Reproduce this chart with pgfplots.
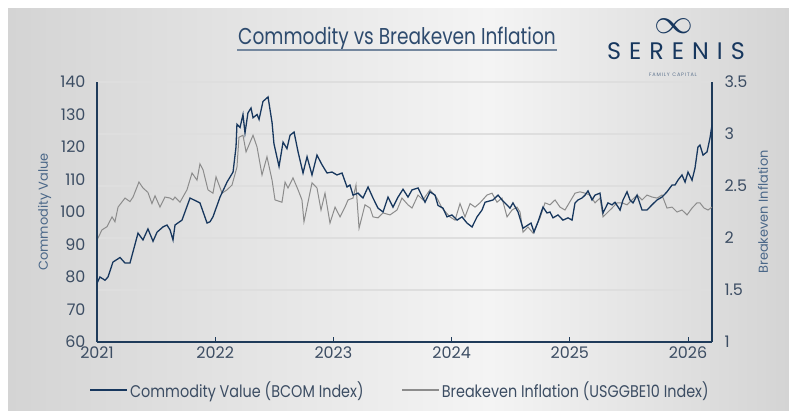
\documentclass[border=0pt]{standalone}
\usepackage{fontspec}
\setmainfont{Poppins}
\usepackage{pgfplots}
\pgfplotsset{compat=1.18}

\definecolor{navy}{HTML}{17375E}
\definecolor{axisnavy}{HTML}{1F3B5A}
\definecolor{beline}{HTML}{8C8C8C}
\definecolor{ticktext}{HTML}{3C4D63}
\definecolor{labeltext}{HTML}{4A6788}
\definecolor{bgdark}{HTML}{D4D4D4}
\definecolor{bglight}{HTML}{F4F4F4}

\begin{document}
\begin{tikzpicture}[x=1bp,y=1bp]
% page and shaded panel
\fill[white] (0,0) rectangle (789,412);
\useasboundingbox (0,0) rectangle (789,412);
\shade[left color=bgdark, right color=bglight] (8,2) rectangle (490,403);
\shade[left color=bglight, right color=bgdark] (490,2) rectangle (789,403);

% title
\node[text=navy!90!white] at (397,373) {\scalebox{0.81}[1]{\fontsize{23}{27}\selectfont Commodity vs Breakeven Inflation}};
\draw[navy!60!white, line width=1.3bp] (237,362) -- (557,362);

% logo
\node[text=navy, inner sep=0pt] at (674,386) {\scalebox{3.9}[3.4]{$\infty$}};
\node[text=navy] at (676,361) {\fontsize{24}{28}\selectfont S\hspace{8bp}E\hspace{8bp}R\hspace{8bp}E\hspace{8bp}N\hspace{8bp}I\hspace{8bp}S};
\node[text=navy!70!white] at (673,337) {\fontsize{5}{6}\selectfont F\,A\,M\,I\,L\,Y\ \ C\,A\,P\,I\,T\,A\,L};

% breakeven inflation, right scale
\begin{axis}[
  at={(97bp,70bp)}, anchor=south west,
  scale only axis, width=615bp, height=260bp,
  xmin=2021, xmax=2026.203,
  ymin=1, ymax=3.5,
  axis x line=none,
  axis y line*=right,
  axis line style={axisnavy, line width=1.4bp},
  ytick={1,1.5,...,3.5},
  yticklabels={1,1.5,2,2.5,3,3.5},
  ytick style={draw=none},
  ymajorgrids,
  grid style={gray!26, line width=1.3bp},
  yticklabel style={font=\fontsize{16}{18}\selectfont, text=ticktext, xshift=9bp},
  /pgf/number format/assume math mode=true,
  ylabel={Breakeven Inflation},
  ylabel style={at={(axis description cs:1.083,0.5)}, anchor=center, rotate=0,
    font=\fontsize{13}{15}\selectfont, text=labeltext},
]
\addplot[beline, line width=1bp] coordinates {
(2021.000,1.981) (2021.042,2.078) (2021.085,2.109) (2021.127,2.203) (2021.152,2.156) (2021.178,2.297) (2021.237,2.384) (2021.279,2.350) (2021.305,2.394) (2021.355,2.538) (2021.389,2.481) (2021.431,2.438) (2021.465,2.331) (2021.491,2.406) (2021.533,2.297) (2021.575,2.394) (2021.618,2.384) (2021.643,2.366) (2021.660,2.394) (2021.702,2.344) (2021.761,2.463) (2021.804,2.625) (2021.846,2.556) (2021.871,2.713) (2021.897,2.656) (2021.939,2.463) (2021.981,2.431) (2022.007,2.588) (2022.058,2.431) (2022.100,2.463) (2022.142,2.509) (2022.184,2.681) (2022.201,2.969) (2022.235,2.988) (2022.261,2.828) (2022.320,2.988) (2022.354,2.875) (2022.396,2.606) (2022.438,2.781) (2022.481,2.556) (2022.506,2.366) (2022.565,2.344) (2022.591,2.538) (2022.616,2.481) (2022.658,2.578) (2022.701,2.463) (2022.734,2.366) (2022.751,2.156) (2022.785,2.344) (2022.819,2.531) (2022.861,2.481) (2022.895,2.269) (2022.929,2.431) (2022.971,2.144) (2023.014,2.297) (2023.056,2.203) (2023.098,2.297) (2023.124,2.366) (2023.166,2.384) (2023.191,2.509) (2023.217,2.094) (2023.267,2.319) (2023.310,2.288) (2023.335,2.203) (2023.377,2.194) (2023.420,2.241) (2023.479,2.222) (2023.538,2.269) (2023.580,2.384) (2023.631,2.319) (2023.665,2.288) (2023.716,2.413) (2023.758,2.366) (2023.817,2.463) (2023.876,2.384) (2023.919,2.288) (2023.986,2.203) (2024.029,2.172) (2024.071,2.331) (2024.113,2.203) (2024.156,2.331) (2024.198,2.297) (2024.240,2.338) (2024.299,2.413) (2024.342,2.431) (2024.384,2.344) (2024.426,2.384) (2024.469,2.203) (2024.511,2.269) (2024.553,2.297) (2024.579,2.250) (2024.604,2.056) (2024.646,2.106) (2024.689,2.047) (2024.748,2.194) (2024.790,2.338) (2024.832,2.319) (2024.875,2.366) (2024.917,2.297) (2024.959,2.269) (2025.044,2.431) (2025.086,2.444) (2025.129,2.431) (2025.171,2.413) (2025.213,2.338) (2025.255,2.384) (2025.281,2.203) (2025.315,2.241) (2025.357,2.288) (2025.399,2.338) (2025.442,2.338) (2025.484,2.319) (2025.526,2.366) (2025.569,2.413) (2025.611,2.366) (2025.653,2.413) (2025.695,2.394) (2025.738,2.384) (2025.780,2.413) (2025.822,2.288) (2025.865,2.297) (2025.907,2.250) (2025.949,2.269) (2025.992,2.222) (2026.034,2.288) (2026.076,2.338) (2026.101,2.338) (2026.135,2.288) (2026.169,2.269) (2026.203,2.297)
};
\end{axis}

% commodity value, left scale
\begin{axis}[
  at={(97bp,70bp)}, anchor=south west,
  scale only axis, width=615bp, height=260bp,
  xmin=2021, xmax=2026.203,
  ymin=60, ymax=140,
  axis x line*=bottom,
  axis y line*=left,
  axis line style={axisnavy, line width=1.4bp},
  xtick={2021,2022,2023,2024,2025,2026},
  xticklabels={2021,2022,2023,2024,2025,2026},
  ytick={60,70,...,140},
  tick align=inside,
  xtick style={axisnavy, line width=1bp},
  major tick length=5bp,
  ytick style={draw=none},
  ticklabel style={font=\fontsize{16}{18}\selectfont, text=ticktext},
  yticklabel style={xshift=-8bp},
  xticklabel style={yshift=-1bp},
  /pgf/number format/assume math mode=true,
  ylabel={Commodity Value},
  ylabel style={at={(axis description cs:-0.085,0.5)}, anchor=center,
    font=\fontsize{13}{15}\selectfont, text=labeltext},
  legend style={draw=none, fill=none, legend columns=2,
    at={(axis description cs:0.493,-0.185)}, anchor=center,
    font=\fontsize{17}{19}\selectfont, text=ticktext,
    /tikz/every even column/.append style={column sep=36bp}},
  legend image code/.code={\draw[#1] (0bp,0bp) -- (37bp,0bp);},
]
\addplot[navy, line width=1.3bp] coordinates {
(2021.000,78.1) (2021.025,80) (2021.068,79) (2021.093,80) (2021.135,84.6) (2021.195,86) (2021.237,84.3) (2021.279,84.3) (2021.347,93.5) (2021.389,91.4) (2021.431,94.8) (2021.474,91) (2021.508,93.8) (2021.558,95.4) (2021.592,96) (2021.618,94.5) (2021.643,91.4) (2021.660,96) (2021.719,97.5) (2021.787,104.3) (2021.871,102.8) (2021.931,96.6) (2021.956,97) (2021.981,98.5) (2022.041,104.6) (2022.100,109.2) (2022.151,112.3) (2022.176,120) (2022.184,127) (2022.210,126) (2022.235,130) (2022.252,124.3) (2022.277,130.5) (2022.303,132) (2022.320,129) (2022.354,130) (2022.371,128.5) (2022.404,134) (2022.447,135.4) (2022.481,127.5) (2022.497,121) (2022.540,114) (2022.574,121.5) (2022.607,119.5) (2022.633,123.6) (2022.667,124.6) (2022.701,118.5) (2022.743,112) (2022.777,117) (2022.819,111.4) (2022.861,117.5) (2022.904,114.5) (2022.946,112) (2022.988,112.3) (2023.030,111.4) (2023.073,112) (2023.115,107.7) (2023.140,108.3) (2023.166,105.2) (2023.208,105.8) (2023.250,104.3) (2023.293,107.7) (2023.335,104.3) (2023.377,101.2) (2023.420,100) (2023.462,104.6) (2023.504,101.5) (2023.547,104.6) (2023.589,107) (2023.631,104.6) (2023.665,106.8) (2023.716,107.4) (2023.775,103) (2023.817,106.2) (2023.860,105.2) (2023.885,102) (2023.927,101.2) (2023.961,98.5) (2024.003,99.1) (2024.046,97.5) (2024.088,98.5) (2024.130,96.6) (2024.173,95.4) (2024.215,98.5) (2024.257,100.6) (2024.283,103) (2024.350,103.7) (2024.393,105.2) (2024.426,103.7) (2024.494,101.2) (2024.519,102.8) (2024.562,100) (2024.604,95) (2024.646,96) (2024.672,96.6) (2024.697,93.8) (2024.731,97) (2024.773,101.5) (2024.807,99.7) (2024.832,100) (2024.858,98.2) (2024.900,99.1) (2024.942,97.5) (2024.985,98.2) (2025.019,97.5) (2025.044,102.8) (2025.069,103.7) (2025.103,104.3) (2025.129,105.2) (2025.154,106.5) (2025.188,103.7) (2025.213,105.2) (2025.255,105.8) (2025.281,99.7) (2025.323,102.8) (2025.357,102.2) (2025.382,103) (2025.425,100.6) (2025.450,103.7) (2025.484,106.2) (2025.509,103.7) (2025.535,102.8) (2025.569,105.2) (2025.611,100.6) (2025.653,100.6) (2025.695,102.2) (2025.738,103.7) (2025.780,104.6) (2025.822,106.2) (2025.865,108.3) (2025.890,108.3) (2025.915,109.8) (2025.949,111.4) (2025.975,109.2) (2026.000,112.3) (2026.034,109.8) (2026.059,113.5) (2026.084,120) (2026.101,120.6) (2026.127,117.5) (2026.161,118.5) (2026.186,122.8) (2026.203,126.8)
};
\addlegendentry{\scalebox{0.85}[1]{Commodity Value (BCOM Index)}}
\addlegendimage{beline, line width=1.3bp}
\addlegendentry{\scalebox{0.85}[1]{Breakeven Inflation (USGGBE10 Index)}}
\end{axis}
\end{tikzpicture}
\end{document}
